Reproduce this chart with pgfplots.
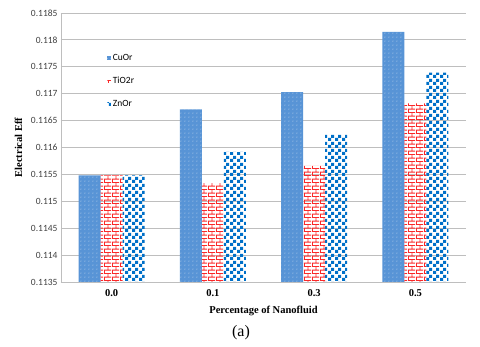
\documentclass[border=0pt]{standalone}
\usepackage{pgfplots}
\pgfplotsset{compat=1.18}
\usetikzlibrary{patterns}
\usepackage{fontspec}
\setmainfont{Liberation Serif}
\newfontfamily\calib{Carlito}
\definecolor{cublue}{RGB}{88,148,214}
\definecolor{znblue}{RGB}{0,112,200}
\definecolor{tired}{RGB}{250,40,40}
\definecolor{gridc}{RGB}{190,190,190}
\pgfdeclarepatternformonly{mydots}{\pgfpoint{-1pt}{-1pt}}{\pgfpoint{2.7pt}{2.7pt}}{\pgfpoint{3.7pt}{3.7pt}}{%
  \pgfpathcircle{\pgfpointorigin}{0.5pt}\pgfusepath{fill}}
\pgfdeclarepatternformonly{mybricks}{\pgfpoint{0pt}{0pt}}{\pgfpoint{8pt}{7.4pt}}{\pgfpoint{8pt}{7.4pt}}{%
  \pgfsetlinewidth{0.9pt}
  \pgfpathmoveto{\pgfpoint{0pt}{0.45pt}}\pgfpathlineto{\pgfpoint{8pt}{0.45pt}}
  \pgfpathmoveto{\pgfpoint{0pt}{4.15pt}}\pgfpathlineto{\pgfpoint{8pt}{4.15pt}}
  \pgfpathmoveto{\pgfpoint{0.45pt}{0.45pt}}\pgfpathlineto{\pgfpoint{0.45pt}{4.15pt}}
  \pgfpathmoveto{\pgfpoint{4.45pt}{4.15pt}}\pgfpathlineto{\pgfpoint{4.45pt}{7.4pt}}
  \pgfusepath{stroke}}
\pgfdeclarepatternformonly{mycheck}{\pgfpointorigin}{\pgfpoint{6.6pt}{6.6pt}}{\pgfpoint{6.6pt}{6.6pt}}{%
  \pgfpathrectangle{\pgfpointorigin}{\pgfpoint{3.3pt}{3.3pt}}
  \pgfpathrectangle{\pgfpoint{3.3pt}{3.3pt}}{\pgfpoint{3.3pt}{3.3pt}}
  \pgfusepath{fill}}
\begin{document}
\begin{tikzpicture}
\useasboundingbox (-61pt,-65pt) rectangle (419pt,282pt);
\begin{axis}[
  scale only axis, width=405pt, height=269pt,
  anchor=south west, at={(0pt,0pt)},
  ybar=0pt, bar width=22pt,
  xmin=-0.5, xmax=3.5,
  ymin=0.1135, ymax=0.1185,
  xtick=data, xticklabels={0.0,0.1,0.3,0.5},
  xticklabel style={font=\fontsize{10.5}{12}\selectfont\bfseries, yshift=-1pt},
  ytick={0.1135,0.114,0.1145,0.115,0.1155,0.116,0.1165,0.117,0.1175,0.118,0.1185},
  scaled y ticks=false,
  yticklabel style={/pgf/number format/fixed, /pgf/number format/precision=4, /pgf/number format/assume math mode=true, font=\calib\fontsize{9.5}{11}\selectfont, text=black!75},
  axis x line*=bottom, axis y line*=left,
  axis line style={gridc, line width=0.8pt},
  x axis line style={-}, y axis line style={-},
  ymajorgrids, grid style={gridc, line width=0.8pt},
  major tick length=3pt,
  ytick style={gridc, line width=0.8pt},
  xtick style={draw=none},
  xlabel={\bfseries Percentage of Nanofluid},
  xlabel style={font=\fontsize{10.5}{12}\selectfont, yshift=-3pt},
  ylabel={\bfseries Electrical Eff},
  ylabel style={font=\fontsize{10.5}{12}\selectfont, yshift=2pt},
  legend style={draw=none, fill=none, at={(0.114,0.855)}, anchor=north west,
    font=\calib\fontsize{9.5}{11}\selectfont, row sep=11pt, inner sep=0pt},
  legend cell align=left,
  legend image code/.code={\fill[#1] (0pt,-1.6pt) rectangle (3.5pt,1.6pt);},
]
\addplot[fill=cublue, draw=none, postaction={pattern=mydots, pattern color=white!80!cublue}] coordinates {(0,0.11548) (1,0.11671) (2,0.11703) (3,0.11815)};
\addplot[draw=none, pattern=mybricks, pattern color=tired] coordinates {(0,0.11548) (1,0.11534) (2,0.11566) (3,0.11682)};
\addplot[draw=none, pattern=mycheck, pattern color=znblue] coordinates {(0,0.11548) (1,0.11592) (2,0.11625) (3,0.11739)};
\legend{CuOr,TiO2r,ZnOr}
\end{axis}
\node[font=\fontsize{16}{18}\selectfont] at (180pt,-51pt) {(a)};
\end{tikzpicture}
\end{document}
